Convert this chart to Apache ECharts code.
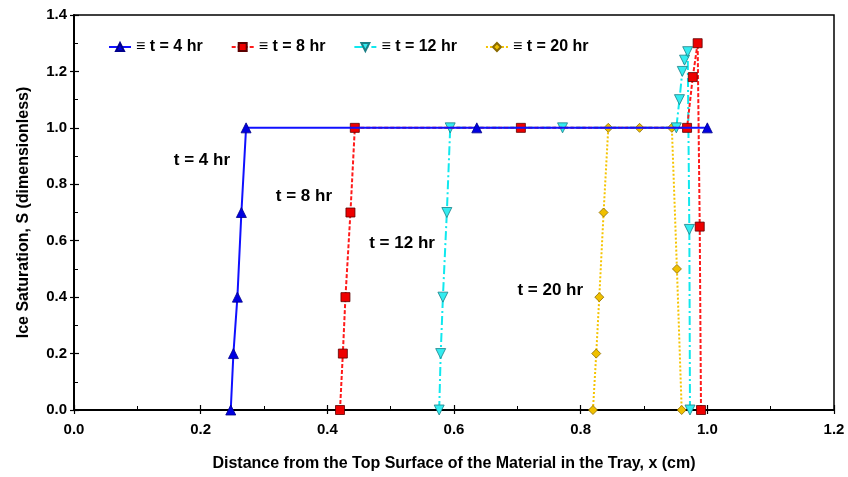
<!DOCTYPE html>
<html>
<head>
<meta charset="utf-8">
<script src="https://cdn.jsdelivr.net/npm/echarts@6/dist/echarts.min.js"></script>
<style>html,body{margin:0;padding:0;background:#fff}#c{width:848px;height:477px}</style>
</head>
<body>
<div id="c"></div>
<script>
// ---- data ----
const seriesNames = ['\u2261 t = 4 hr', '\u2261 t = 8 hr', '\u2261 t = 12 hr', '\u2261 t = 20 hr'];
const t4X = [0.2475, 0.2517, 0.258, 0.2643, 0.2717, 0.636, 1.0];
const t4Y = [0, 0.2, 0.4, 0.7, 1.0, 1.0, 1.0];
const t8X = [0.420, 0.4245, 0.4286, 0.4365, 0.4434, 0.7056, 0.968, 0.977, 0.9847, 0.988, 0.990];
const t8Y = [0, 0.2, 0.4, 0.7, 1.0, 1.0, 1.0, 1.18, 1.30, 0.65, 0];
const t12X = [0.5766, 0.579, 0.5825, 0.5887, 0.594, 0.7714, 0.951, 0.956, 0.9605, 0.964, 0.969, 0.9716, 0.9726];
const t12Y = [0, 0.2, 0.4, 0.7, 1.0, 1.0, 1.0, 1.1, 1.2, 1.24, 1.27, 0.64, 0];
const t20X = [0.8194, 0.8246, 0.8294, 0.8362, 0.8436, 0.893, 0.944, 0.952, 0.9595];
const t20Y = [0, 0.2, 0.4, 0.7, 1.0, 1.0, 1.0, 0.5, 0];
const annoText = ['t = 4 hr', 't = 8 hr', 't = 12 hr', 't = 20 hr'];
const annoX = [0.202, 0.363, 0.518, 0.752];
const annoY = [0.885, 0.758, 0.592, 0.423];
const xTitle = 'Distance from the Top Surface of the Material in the Tray, x (cm)';
const yTitle = 'Ice Saturation, S (dimensionless)';

const zip = (xs, ys) => xs.map((x, i) => [x, ys[i]]);
const FONT = 'Liberation Sans, Arial, sans-serif';

const chart = echarts.init(document.getElementById('c'), null, {renderer: 'canvas'});
const axisCommon = {
  min: 0, interval: 0.2,
  axisLine: {show: true, lineStyle: {color: '#000', width: 2}},
  axisTick: {show: true, inside: true, length: 5, lineStyle: {color: '#000', width: 1.2}},
  minorTick: {show: true, splitNumber: 2, length: 4, lineStyle: {color: '#000', width: 1}},
  splitLine: {show: false},
  axisLabel: {color: '#000', fontFamily: FONT, fontWeight: 'bold', fontSize: 15, formatter: v => v.toFixed(1)},
  nameTextStyle: {color: '#000', fontFamily: FONT, fontWeight: 'bold', fontSize: 16}
};
const outsideTicks = {
  min: 0, interval: 0.2,
  axisLine: {show: false},
  axisTick: {show: true, inside: false, length: 4, lineStyle: {color: '#000', width: 1.2}},
  axisLabel: {show: false}, splitLine: {show: false}
};

chart.setOption({
  animation: false,
  backgroundColor: '#fff',
  grid: {left: 74, right: 14, top: 15, bottom: 65, show: true, borderColor: '#000', borderWidth: 1.5, backgroundColor: 'transparent'},
  legend: {
    data: seriesNames,
    left: 103, top: 34,
    itemWidth: 22, itemHeight: 10, itemGap: 28,
    textStyle: {color: '#000', fontFamily: FONT, fontWeight: 'bold', fontSize: 16}
  },
  xAxis: [
    Object.assign({}, axisCommon, {type: 'value', max: 1.2, name: xTitle, nameLocation: 'middle', nameGap: 46, axisLabel: Object.assign({}, axisCommon.axisLabel, {margin: 12})}),
    Object.assign({}, outsideTicks, {type: 'value', max: 1.2, position: 'bottom'})
  ],
  yAxis: [
    Object.assign({}, axisCommon, {type: 'value', max: 1.4, name: yTitle, nameLocation: 'middle', nameGap: 42, axisLabel: Object.assign({}, axisCommon.axisLabel, {margin: 7})}),
    Object.assign({}, outsideTicks, {type: 'value', max: 1.4, position: 'left'})
  ],
  series: [
    {name: seriesNames[0], type: 'line', z: 6, data: zip(t4X, t4Y), symbol: 'triangle', symbolSize: 10,
     lineStyle: {color: '#1010ff', width: 2, type: 'solid'},
     itemStyle: {color: '#0000e0', borderColor: '#00008b', borderWidth: 0.8}},
    {name: seriesNames[1], type: 'line', z: 5, data: zip(t8X, t8Y), symbol: 'rect', symbolSize: 9,
     lineStyle: {color: '#ff1a1a', width: 2, type: [4, 2]},
     itemStyle: {color: '#ee0000', borderColor: '#5a0000', borderWidth: 0.8}},
    {name: seriesNames[2], type: 'line', z: 4, data: zip(t12X, t12Y), symbol: 'triangle', symbolRotate: 180, symbolSize: 10,
     lineStyle: {color: '#10e8ee', width: 2, type: [9, 3, 2, 3]},
     itemStyle: {color: '#33ecf0', borderColor: '#1b7f86', borderWidth: 0.8}},
    {name: seriesNames[3], type: 'line', z: 3, data: zip(t20X, t20Y), symbol: 'diamond', symbolSize: 9,
     lineStyle: {color: '#f5c400', width: 2, type: [2, 2]},
     itemStyle: {color: '#f0c000', borderColor: '#8a6a00', borderWidth: 0.8}},
    {name: 'annotations', type: 'scatter', z: 7, symbolSize: 0, silent: true,
     itemStyle: {opacity: 1},
     data: annoX.map((x, i) => ({value: [x, annoY[i]], name: annoText[i]})),
     label: {show: true, position: 'inside', formatter: p => p.name, color: '#000', opacity: 1, fontFamily: FONT, fontWeight: 'bold', fontSize: 17}}
  ]
});
</script>
</body>
</html>
